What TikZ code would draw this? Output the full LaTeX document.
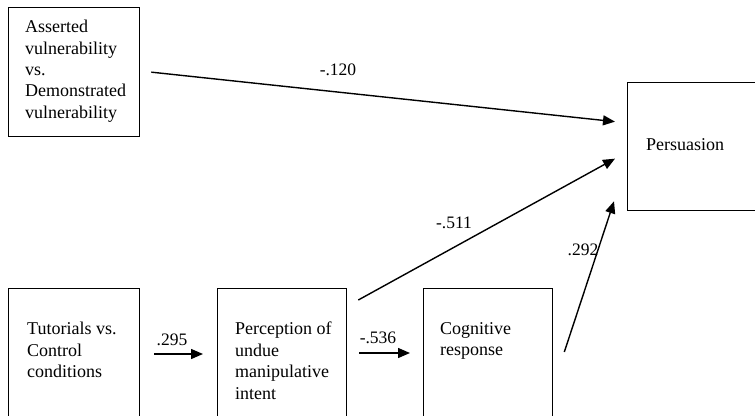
\documentclass[tikz,border=0pt]{standalone}
\usepackage{fontspec}
\setmainfont{Liberation Serif}
\usetikzlibrary{arrows.meta}
\begin{document}
\begin{tikzpicture}[x=1pt,y=-1pt,
  box/.style={draw, line width=1.3pt, rectangle, inner sep=0pt, anchor=north west},
  txt/.style={inner sep=0pt, anchor=north west, align=left, font=\fontsize{18}{21.4}\selectfont},
  lbl/.style={inner sep=0pt, anchor=base, font=\fontsize{17.5}{20}\selectfont},
  arr/.style={line width=1.4pt, -{Triangle[length=12pt,width=10pt]}}]
\useasboundingbox (0,0) rectangle (755,415);
\clip (0,0) rectangle (755,415);
\node[box, minimum width=140pt, minimum height=128pt] (P) at (627,82) {};
\node[box, minimum width=131pt, minimum height=129pt] (A) at (8,7) {};
\node[box, minimum width=131pt, minimum height=145pt] (T) at (8,288) {};
\node[box, minimum width=129pt, minimum height=145pt] (Pe) at (217,288) {};
\node[box, minimum width=129pt, minimum height=145pt] (C) at (423,288) {};
\node[txt] (tA) at (25,20) {Asserted\\vulnerability\\vs.\\Demonstrated\\vulnerability};
\node[txt] (tP) at (646,138) {Persuasion};
\node[txt] (tT) at (27,322) {Tutorials vs.\\Control\\conditions};
\node[txt] (tPe) at (235,322) {Perception of\\undue\\manipulative\\intent};
\node[txt] (tC) at (440,322) {Cognitive\\response};
\draw[arr] ([xshift=11pt]A.east) -- ([xshift=-12pt,yshift=25pt]P.west);
\draw[arr] ([xshift=11pt,yshift=-12pt]Pe.north east) -- ([xshift=-12pt,yshift=-12pt]P.west);
\draw[arr] ([xshift=11pt,yshift=-64pt]C.north east) -- ([xshift=-13pt,yshift=10pt]P.south west);
\draw[arr] ([xshift=14pt,yshift=-66pt]T.north east) -- ([xshift=-14pt,yshift=-66pt]Pe.north west);
\draw[arr] ([xshift=12pt,yshift=-65pt]Pe.north east) -- ([xshift=-13pt,yshift=-65pt]C.north west);
\node[lbl] (l1) at (338,75) {-.120};
\node[lbl] (l2) at (454,228) {-.511};
\node[lbl] (l3) at (583,255) {.292};
\node[lbl] (l4) at (172,345) {.295};
\node[lbl] (l5) at (378,343) {-.536};
\end{tikzpicture}
\end{document}
